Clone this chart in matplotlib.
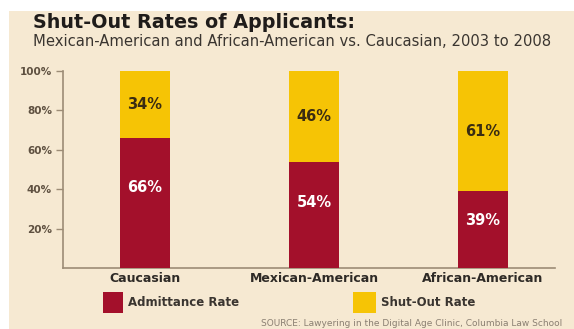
import matplotlib
matplotlib.use("Agg")
import matplotlib.pyplot as plt
from matplotlib.patches import Rectangle

categories = ["Caucasian", "Mexican-American", "African-American"]
admittance = [66, 54, 39]
shutout = [34, 46, 61]
ytick_vals = [20, 40, 60, 80, 100]
ytick_labels = ["20%", "40%", "60%", "80%", "100%"]

W, H = 574, 329
DPI = 100
BG = "#f6e9d2"
MAROON = "#a3102b"
YELLOW = "#f6c405"
AXC = "#9c8c76"
TXT = "#2e2a26"

plt.rcParams["font.family"] = ["DejaVu Sans"]

fig = plt.figure(figsize=(W / DPI, H / DPI), dpi=DPI, facecolor="white")
fig.patches.append(Rectangle((9 / W, 0), 1 - 9 / W, (H - 11) / H,
                             transform=fig.transFigure, facecolor=BG,
                             edgecolor="none", zorder=-10))

def fx(px):
    return px / W

def fy(py):
    return 1 - py / H

ax = fig.add_axes([fx(63), fy(268), fx(555) - fx(63), fy(71) - fy(268)])
ax.set_facecolor("none")
x = list(range(len(categories)))
bw = 0.296
ax.bar(x, admittance, width=bw, color=MAROON, edgecolor="none", zorder=3)
ax.bar(x, shutout, width=bw, bottom=admittance, color=YELLOW,
       edgecolor="none", zorder=3)
for xi, a, s in zip(x, admittance, shutout):
    ax.text(xi, a + s / 2, f"{s}%", ha="center", va="center", fontsize=10.5,
            fontweight="bold", color="#3a2c12", zorder=4)
    ax.text(xi, a * 0.62, f"{a}%", ha="center", va="center", fontsize=10.5,
            fontweight="bold", color="white", zorder=4)

ax.set_xlim(-0.485, 2.426)
ax.set_ylim(0, 100)
ax.set_yticks(ytick_vals)
ax.set_yticklabels(ytick_labels, fontsize=7.5, fontweight="bold", color="#5e5040")
ax.set_xticks(x)
ax.set_xticklabels(categories, fontsize=9, fontweight="bold", color=TXT)
ax.tick_params(axis="y", length=5, width=1, color=AXC, pad=3)
ax.tick_params(axis="x", length=0, pad=3)
for side in ["top", "right"]:
    ax.spines[side].set_visible(False)
for side in ["left", "bottom"]:
    ax.spines[side].set_color(AXC)
    ax.spines[side].set_linewidth(1.2)

fig.text(fx(33), fy(28.5), "Shut-Out Rates of Applicants:", fontsize=13.8,
         fontweight="bold", color="#1f1c1a", ha="left", va="baseline")
fig.text(fx(33), fy(45.5), "Mexican-American and African-American vs. Caucasian, 2003 to 2008",
         fontsize=10.6, color="#3a3530", ha="left", va="baseline")

# legend
fig.patches.append(Rectangle((fx(103), fy(313)), fx(20), 21 / H,
                             transform=fig.transFigure, facecolor=MAROON,
                             edgecolor="none"))
fig.text(fx(128), fy(303), "Admittance Rate", fontsize=8.5, fontweight="bold",
         color="#3a3530", ha="left", va="center")
fig.patches.append(Rectangle((fx(353), fy(313)), fx(23), 21 / H,
                             transform=fig.transFigure, facecolor=YELLOW,
                             edgecolor="none"))
fig.text(fx(381), fy(303), "Shut-Out Rate", fontsize=8.5, fontweight="bold",
         color="#3a3530", ha="left", va="center")

fig.text(fx(562), fy(323), "SOURCE: Lawyering in the Digital Age Clinic, Columbia Law School",
         fontsize=6.5, color="#8a7f72", ha="right", va="center")

fig.savefig("out.png", dpi=DPI, facecolor="white")
